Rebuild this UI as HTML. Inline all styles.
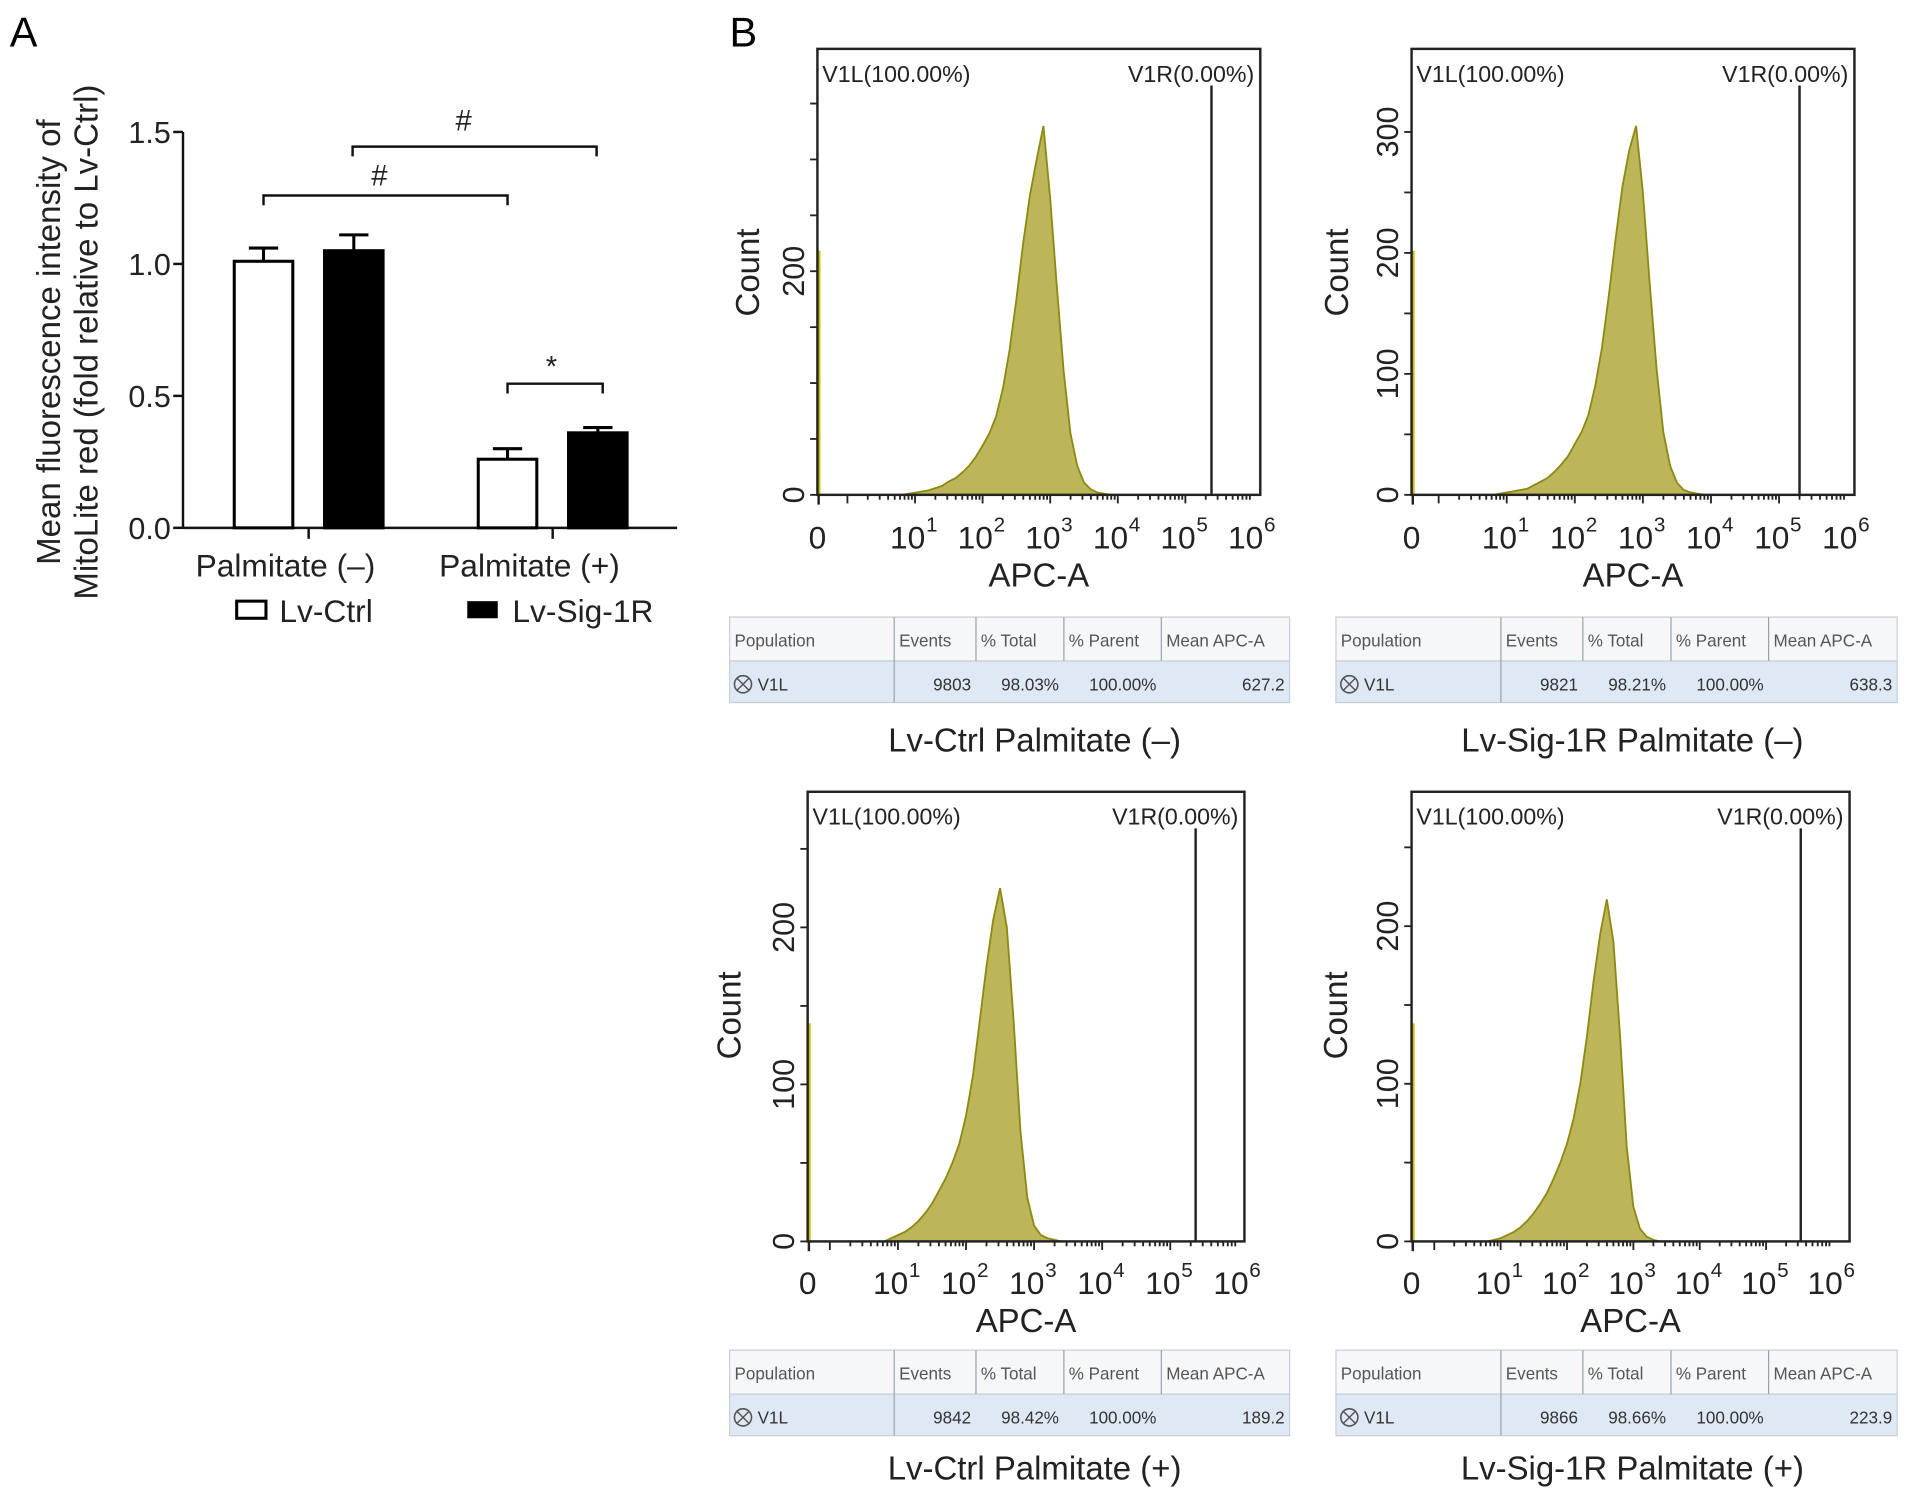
<!DOCTYPE html>
<html><head><meta charset="utf-8"><style>
html,body{margin:0;padding:0;background:#fff;}
svg{display:block;font-family:"Liberation Sans",Arial,sans-serif;}
</style></head><body>
<svg id="fig" width="1913" height="1498" viewBox="0 0 1568 1226" preserveAspectRatio="none" xmlns="http://www.w3.org/2000/svg"></svg>
<script>
// ---- Panel A data ----
const barGroups = ["Palmitate (–)", "Palmitate (+)"];
const ctrlValues = [1.01, 0.26];
const sigValues = [1.05, 0.36];
const ctrlErr = [0.05, 0.04];
const sigErr = [0.06, 0.02];
const yTicksA = [0.0, 0.5, 1.0, 1.5];
const yTickLabelsA = ["0.0", "0.5", "1.0", "1.5"];

// ---- Panel B data ----
const binsLog = [0.8,0.9,1.0,1.1,1.2,1.3,1.4,1.5,1.6,1.7,1.8,1.9,2.0,2.1,2.2,2.3,2.4,2.5,2.6,2.7,2.8,2.9,3.0,3.1,3.2,3.3,3.4,3.5,3.6,3.7,3.8,3.9];
const countsCtrlMinus = [0,1,2,3,4,6,8,12,15,20,26,34,44,55,70,95,130,175,225,268,300,330,265,185,110,55,26,11,5,2,1,0];
const countsSigMinus  = [0,1,2,3,4,5,8,11,14,19,25,32,42,52,66,90,122,165,212,255,285,305,250,175,105,52,24,10,4,2,1,0];
const countsCtrlPlus  = [0,2,4,6,9,13,18,24,32,40,50,62,80,105,140,175,205,225,200,140,70,28,10,4,2,1,0,0,0,0,0,0];
const countsSigPlus   = [0,1,2,4,6,9,13,18,24,31,40,50,62,78,100,130,165,195,217,190,130,60,22,8,3,1,0,0,0,0,0,0];
const decadeLabels = ["1","2","3","4","5","6"];
const tableHeaders = ["Population","Events","% Total","% Parent","Mean APC-A"];
const eventsVals = ["9803","9821","9842","9866"];
const totalVals = ["98.03%","98.21%","98.42%","98.66%"];
const parentVals = ["100.00%","100.00%","100.00%","100.00%"];
const meanVals = ["627.2","638.3","189.2","223.9"];
const captions = ["Lv-Ctrl Palmitate (–)","Lv-Sig-1R Palmitate (–)","Lv-Ctrl Palmitate (+)","Lv-Sig-1R Palmitate (+)"];
const yTickVals = [[0,200],[0,100,200,300],[0,100,200],[0,100,200]];

const NS = "http://www.w3.org/2000/svg";
const svg = document.getElementById('fig');
function mk(tag, attrs, parent, text){
  const e = document.createElementNS(NS, tag);
  for (const k in attrs) e.setAttribute(k, attrs[k]);
  if (text !== undefined) e.textContent = text;
  (parent||svg).appendChild(e);
  return e;
}

// ===== Panel A =====
const gA = mk('g', {});


let t = mk('text', {x:8, y:38, 'font-size':34}, gA, 'A');
 

const ax0 = 150, axR = 555, yTop = 108, yBot = 432, yMax = 1.5;
const yA = v => yBot - (v / yMax) * (yBot - yTop);
let l = mk('line', {x1:ax0, y1:yTop, x2:ax0, y2:yBot, stroke:'#111', 'stroke-width':2}, gA);
 
l = mk('line', {x1:ax0, y1:yBot, x2:axR, y2:yBot, stroke:'#111', 'stroke-width':2}, gA);
 
yTicksA.forEach((v, i) => {
  mk('line', {x1:ax0-8, y1:yA(v), x2:ax0, y2:yA(v), stroke:'#111', 'stroke-width':2}, gA);
  const tt = mk('text', {x:ax0-10, y:yA(v)+9, 'font-size':25, 'text-anchor':'end', fill:'#222'}, gA, yTickLabelsA[i]);
   
});
const yl = mk('text', {transform:'translate(49,280) rotate(-90)', 'font-size':27, 'text-anchor':'middle', fill:'#222'}, gA);
 
mk('tspan', {x:0, y:0}, yl, 'Mean fluorescence intensity of');
mk('tspan', {x:0, y:31}, yl, 'MitoLite red (fold relative to Lv-Ctrl)');

const groupCenters = [253, 453];
const barW = 48, barOff = 37;
barGroups.forEach((g, i) => {
  const cx = groupCenters[i];
  mk('line', {x1:cx, y1:yBot, x2:cx, y2:yBot+9, stroke:'#111', 'stroke-width':2}, gA);
  const gl = mk('text', {x:cx-19, y:472, 'font-size':26, 'text-anchor':'middle', fill:'#222'}, gA, g);
   
  [[ctrlValues, ctrlErr, '#fff', 'bar-lv-ctrl', -1], [sigValues, sigErr, '#000', 'bar-lv-sig-1r', 1]].forEach(([vals, errs, fill, name, s]) => {
    const bx = cx + s*barOff - barW/2;
    const b = mk('rect', {x:bx, y:yA(vals[i]), width:barW, height:yBot-yA(vals[i]), fill:fill, stroke:'#000', 'stroke-width':2.5}, gA);
     
    const bc = bx + barW/2;
    const e = mk('path', {d:`M${bc},${yA(vals[i])} V${yA(vals[i]+errs[i])} M${bc-12},${yA(vals[i]+errs[i])} H${bc+12}`, stroke:'#000', 'stroke-width':2.5, fill:'none'}, gA);
     
  });
});
// significance brackets
[[289,489,120,'#',380,107],[216,416,160,'#',311,152],[416,494,314,'*',452,308]].forEach(([x1,x2,y,sym,tx,ty]) => {
  const p = mk('path', {d:`M${x1},${y+8} V${y} H${x2} V${y+8}`, stroke:'#111', 'stroke-width':2, fill:'none'}, gA);
   
  const st = mk('text', {x:tx, y:ty, 'font-size':24, 'text-anchor':'middle', fill:'#222'}, gA, sym);
   
});
// legend
let lg = mk('rect', {x:194, y:492, width:24, height:14, fill:'#fff', stroke:'#000', 'stroke-width':2.5}, gA);
 
lg = mk('text', {x:229, y:509, 'font-size':26, fill:'#222'}, gA, 'Lv-Ctrl');
 
lg = mk('rect', {x:383, y:492, width:25, height:14, fill:'#000'}, gA);
 
lg = mk('text', {x:420, y:509, 'font-size':26, fill:'#222'}, gA, 'Lv-Sig-1R');
 

// ===== Panel B =====
t = mk('text', {x:598, y:38, 'font-size':34}, svg, 'B');
 

const panels = [
  {bx:670, by:40, bw:363, bh:365, dec1:750, decW:55.4, cpp:0.915, v1r:993, counts:countsCtrlMinus, spike:235, tx:598, ty:505, tw:459, cap:848, capY:615, countX:622, labY:440},
  {bx:1157, by:40, bw:363, bh:365, dec1:1235, decW:55.8, cpp:0.99, v1r:1475, counts:countsSigMinus, spike:235, tx:1095, ty:505, tw:460, cap:1338, capY:615, countX:1105, labY:440},
  {bx:662, by:648, bw:358, bh:368, dec1:736, decW:55.8, cpp:1.285, v1r:980, counts:countsCtrlPlus, spike:210, tx:598, ty:1105, tw:459, cap:848, capY:1211, countX:607, labY:1050},
  {bx:1157, by:648, bw:359, bh:368, dec1:1230, decW:54.4, cpp:1.29, v1r:1476, counts:countsSigPlus, spike:210, tx:1095, ty:1105, tw:460, cap:1338, capY:1211, countX:1104, labY:1050}
];
panels.forEach((P, pi) => {
  const g = mk('g', {});
  
  
  const y0 = P.by + P.bh;
  const xL = L => P.dec1 + (L - 1) * P.decW;
  const yC = c => y0 - c * P.cpp;
  let d = `M${xL(binsLog[0])},${y0}`;
  binsLog.forEach((L, i) => { d += ` L${xL(L)},${yC(P.counts[i])}`; });
  d += ` L${xL(binsLog[binsLog.length-1])},${y0} Z`;
  const h = mk('path', {d:d, fill:'#bcb55a', stroke:'#8c8a10', 'stroke-width':1.5}, g);
   
  mk('line', {x1:P.bx+1.5, y1:y0, x2:P.bx+1.5, y2:y0-P.spike*0.85, stroke:'#c8c000', 'stroke-width':2}, g);
  const bx = mk('rect', {x:P.bx, y:P.by, width:P.bw, height:P.bh, fill:'none', stroke:'#222', 'stroke-width':2}, g);
   
  const gl = mk('line', {x1:P.v1r, y1:P.by+30, x2:P.v1r, y2:y0, stroke:'#222', 'stroke-width':2}, g);
   
  let tx = mk('text', {x:P.bx+4, y:P.by+27, 'font-size':19, fill:'#222'}, g, 'V1L(100.00%)');
   
  tx = mk('text', {x:P.bx+P.bw-5, y:P.by+27, 'font-size':19, fill:'#222', 'text-anchor':'end'}, g, 'V1R(0.00%)');
   
  for (let c = 0; c * P.cpp < P.bh - 20; c += 50) {
    mk('line', {x1:P.bx-6, y1:yC(c), x2:P.bx, y2:yC(c), stroke:'#222', 'stroke-width':1.5}, g);
  }
  yTickVals[pi].forEach(v => {
    const yt = mk('text', {transform:`translate(${P.bx-11},${yC(v)}) rotate(-90)`, 'font-size':25, 'text-anchor':'middle', fill:'#222'}, g, String(v));
     
  });
  const ct = mk('text', {transform:`translate(${P.countX},${P.by+183}) rotate(-90)`, 'font-size':27, 'text-anchor':'middle', fill:'#222'}, g, 'Count');
   
  for (let dcd = 0; dcd < 6; dcd++) {
    for (let k = 1; k <= 9; k++) {
      const L = dcd + Math.log10(k);
      const x = xL(L);
      if (x <= P.bx || x >= P.bx + P.bw) continue;
      mk('line', {x1:x, y1:y0, x2:x, y2:y0+(k===1?7:4), stroke:'#222', 'stroke-width':1.5}, g);
    }
  }
  mk('line', {x1:P.bx+1, y1:y0, x2:P.bx+1, y2:y0+8, stroke:'#222', 'stroke-width':2}, g);
  let zl = mk('text', {x:P.bx, y:P.labY+9, 'font-size':26, 'text-anchor':'middle', fill:'#222'}, g, '0');
   
  decadeLabels.forEach((e, i) => {
    const x = xL(i + 1);
    const tl = mk('text', {x:x-6, y:P.labY+9, 'font-size':26, 'text-anchor':'middle', fill:'#222'}, g, '10');
     
    mk('text', {x:x+9, y:P.labY-5, 'font-size':17, fill:'#222'}, g, e);
  });
  const at = mk('text', {x:P.bx + P.bw*0.5, y:P.labY+40, 'font-size':27, 'text-anchor':'middle', fill:'#222'}, g, 'APC-A');
   
  const tg = mk('g', {}, g);
   
  const tw = P.tw, tX = P.tx, tY = P.ty;
  mk('rect', {x:tX, y:tY, width:tw, height:36, fill:'#f6f7f9', stroke:'#c9ced6', 'stroke-width':1}, tg);
  mk('rect', {x:tX, y:tY+36, width:tw, height:34, fill:'#dfe9f5', stroke:'#c9ced6', 'stroke-width':1}, tg);
  const colF = [0, 0.294, 0.44, 0.597, 0.771, 1];
  for (let c = 1; c < 5; c++) {
    mk('line', {x1:tX+colF[c]*tw, y1:tY, x2:tX+colF[c]*tw, y2:tY+(c===1?70:36), stroke:'#9aa3ad', 'stroke-width':1}, tg);
  }
  tableHeaders.forEach((hh, c) => {
    mk('text', {x:tX+colF[c]*tw+4, y:tY+24, 'font-size':14, fill:'#555', 'font-family':'"Liberation Sans Narrow","Liberation Sans",sans-serif'}, tg, hh);
  });
  mk('circle', {cx:tX+11, cy:tY+55, r:7, fill:'none', stroke:'#555', 'stroke-width':1.3}, tg);
  mk('path', {d:`M${tX+6},${tY+50} l10,10 M${tX+16},${tY+50} l-10,10`, stroke:'#555', 'stroke-width':1.2}, tg);
  mk('text', {x:tX+23, y:tY+60, 'font-size':14, fill:'#333'}, tg, 'V1L');
  [[eventsVals,2],[totalVals,3],[parentVals,4],[meanVals,5]].forEach(([arr,c]) => {
    const cc = mk('text', {x:tX+colF[c]*tw-4, y:tY+60, 'font-size':14, fill:'#333', 'text-anchor':'end', 'font-family':'"Liberation Sans Narrow","Liberation Sans",sans-serif'}, tg, arr[pi]);
     
  });
  const cp = mk('text', {x:P.cap, y:P.capY, 'font-size':27, 'text-anchor':'middle', fill:'#222'}, g, captions[pi]);
   
});
</script>
</body></html>
